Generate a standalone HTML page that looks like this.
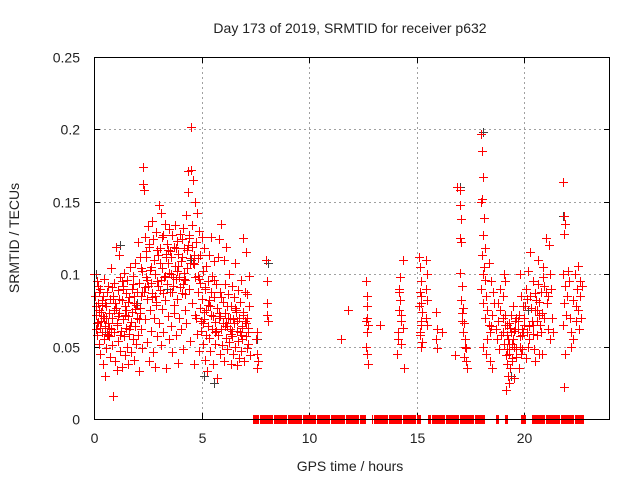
<!DOCTYPE html>
<html><head><meta charset="utf-8"><style>
body{margin:0;background:#fff}
svg text{font-family:"Liberation Sans",sans-serif;fill:#222}
</style></head><body>
<svg id="chart" width="640" height="480" xmlns="http://www.w3.org/2000/svg">
<rect width="640" height="480" fill="#fff"/>
<g id="grid"></g>
<g id="ticks"></g>
<g id="gray"></g>
<g id="red"></g>
<rect x="94.5" y="57.5" width="515" height="362" fill="none" stroke="#000" stroke-width="1"/>
<text x="350" y="33" font-size="14" text-anchor="middle">Day 173 of 2019, SRMTID for receiver p632</text>
<text transform="translate(19,238) rotate(-90)" font-size="14" text-anchor="middle">SRMTID / TECUs</text>
<text x="350" y="471" font-size="14" text-anchor="middle">GPS time / hours</text>
</svg>
<script>
const xTicks=[0,5,10,15,20];
const yTicks=[0,0.05,0.1,0.15,0.2,0.25];
const yTickLabels=["0","0.05","0.1","0.15","0.2","0.25"];
const redT=[
0.02,0.05,0.08,0.1,0.12,0.15,0.18,0.2,0.22,0.25,
0.28,0.3,0.33,0.35,0.38,0.4,0.43,0.45,0.48,0.5,
0.53,0.55,0.58,0.6,0.63,0.65,0.68,0.7,0.73,0.75,
0.78,0.8,0.83,0.85,0.88,0.9,0.93,0.95,0.98,1.0,
1.03,1.05,1.08,1.1,1.13,1.15,1.18,1.2,1.23,1.25,
1.28,1.3,1.33,1.35,1.38,1.4,1.43,1.45,1.48,1.5,
1.53,1.55,1.58,1.6,1.63,1.65,1.68,1.7,1.73,1.75,
1.78,1.8,1.83,1.85,1.88,1.9,1.93,1.95,1.98,2.0,
2.03,2.05,2.08,2.1,2.13,2.15,2.18,2.2,2.23,2.25,
2.28,2.3,2.33,2.35,2.38,2.4,2.43,2.45,2.48,2.5,
2.53,2.55,2.58,2.6,2.63,2.65,2.68,2.7,2.73,2.75,
2.78,2.8,2.83,2.85,2.88,2.9,2.93,2.95,2.98,3.0,
3.03,3.05,3.08,3.1,3.13,3.15,3.18,3.2,3.23,3.25,
3.28,3.3,3.33,3.35,3.38,3.4,3.43,3.45,3.48,3.5,
3.53,3.55,3.58,3.6,3.63,3.65,3.68,3.7,3.73,3.75,
3.78,3.8,3.83,3.85,3.88,3.9,3.93,3.95,3.98,4.0,
4.03,4.05,4.08,4.1,4.13,4.15,4.18,4.2,4.23,4.25,
4.28,4.3,4.33,4.35,4.38,4.4,4.43,4.45,4.48,4.5,
4.53,4.55,4.58,4.6,4.63,4.65,4.68,4.7,4.73,4.75,
4.78,4.8,4.83,4.85,4.88,4.9,4.93,4.95,4.98,5.0,
5.03,5.05,5.08,5.1,5.13,5.15,5.18,5.2,5.23,5.25,
5.28,5.3,5.33,5.35,5.38,5.4,5.43,5.45,5.48,5.5,
5.53,5.55,5.58,5.6,5.63,5.65,5.68,5.7,5.73,5.75,
5.78,5.8,5.83,5.85,5.88,5.9,5.93,5.95,5.98,6.0,
6.03,6.05,6.08,6.1,6.13,6.15,6.18,6.2,6.23,6.25,
6.28,6.3,6.33,6.35,6.38,6.4,6.43,6.45,6.48,6.5,
6.53,6.55,6.58,6.6,6.63,6.65,6.68,6.7,6.73,6.75,
6.78,6.8,6.83,6.85,6.88,6.9,6.93,6.95,6.98,7.0,
7.03,7.05,7.08,7.1,7.13,7.15,7.18,7.2,7.23,7.25,
0.12,0.37,0.62,0.87,1.12,1.37,1.62,1.87,2.12,2.37,
2.62,2.87,3.12,3.37,3.62,3.87,4.12,4.37,4.62,4.87,
5.12,5.37,5.62,5.87,6.12,6.37,6.62,6.87,7.12,0.22,
0.47,0.72,0.97,1.22,1.47,1.72,1.97,2.22,2.47,2.72,
2.97,3.22,3.47,3.72,3.97,4.22,4.47,4.72,4.97,5.22,
0.07,0.17,0.27,0.42,0.57,0.67,0.82,0.92,1.07,1.17,
1.32,1.42,1.57,1.67,1.82,1.92,2.07,2.17,2.32,2.42,
2.57,2.67,2.82,2.92,3.07,3.17,3.32,3.42,3.57,3.67,
3.82,3.92,4.07,4.17,4.32,4.42,4.57,4.67,4.82,4.92,
5.07,5.17,5.32,5.42,5.57,5.67,5.82,5.92,6.07,6.17,
6.32,6.42,6.57,6.67,6.82,6.92,7.07,7.17,0.32,0.52,
7.55,7.6,7.6,7.65,7.6,8.0,8.05,8.05,8.1,8.05,
11.5,11.8,12.65,12.7,12.7,12.75,12.7,12.65,12.7,12.75,
12.7,13.3,12.65,
14.1,14.15,14.2,14.2,14.25,14.3,14.3,14.35,14.4,14.2,
14.15,14.3,14.25,14.35,15.1,15.15,15.2,15.15,15.2,15.25,
15.2,15.15,15.25,15.2,15.1,15.2,15.45,15.5,15.45,15.5,
15.45,15.5,15.9,15.95,15.9,15.95,16.2,16.8,15.2,15.15,
16.9,17.0,17.0,17.05,17.0,17.05,17.0,17.1,17.05,17.15,
17.1,17.2,17.15,17.25,17.3,17.2,17.3,17.35,17.1,17.25,
18.0,18.05,18.1,18.05,18.0,18.15,18.1,18.2,18.05,18.15,
18.1,18.2,18.0,18.25,18.1,18.3,18.2,18.35,18.4,18.3,
18.1,18.25,18.4,18.5,18.45,18.55,18.6,18.5,18.35,18.45,
18.7,18.75,18.8,18.85,18.9,18.95,19.0,19.05,19.1,19.15,
19.2,19.25,19.3,19.35,19.4,19.45,19.5,19.55,19.6,19.65,
19.7,19.75,19.8,19.85,19.9,19.95,20.0,19.2,19.3,19.4,
18.8,18.9,19.0,19.1,19.2,19.3,19.5,19.6,19.8,19.9,
19.25,19.35,19.45,19.55,19.65,19.75,19.85,19.95,19.15,19.05,
19.02,19.12,19.22,19.32,19.42,19.52,19.62,19.72,19.82,19.92,
20.02,20.12,20.22,20.32,20.42,20.52,20.62,20.72,20.82,20.92,
20.05,20.1,20.15,20.2,20.25,20.3,20.35,20.4,20.45,20.5,
20.55,20.6,20.65,20.7,20.75,20.8,20.85,20.9,20.95,21.0,
21.05,21.1,21.15,21.2,21.25,21.3,20.5,20.7,20.9,21.1,
20.2,20.4,20.6,20.8,21.0,21.2,20.3,20.1,20.65,21.35,
21.8,21.85,21.9,21.85,21.8,21.9,21.85,21.8,21.9,21.85,
22.0,22.1,22.15,22.2,22.3,22.35,22.4,22.45,22.5,22.55,
22.6,22.65,22.7,22.3,22.4,22.5,22.2,22.6,21.95,22.05];
const redV=[
.100,.085,.062,.072,.058,.095,.080,.067,.052,.075,
.045,.090,.068,.060,.082,.038,.071,.055,.097,.064,
.030,.078,.049,.088,.066,.092,.057,.073,.043,.083,
.062,.104,.051,.070,.016,.085,.060,.094,.040,.077,
.119,.065,.034,.089,.054,.073,.113,.047,.098,.061,
.082,.036,.069,.092,.057,.101,.044,.078,.063,.087,
.050,.096,.071,.038,.084,.059,.105,.067,.046,.090,
.074,.055,.099,.041,.080,.064,.108,.052,.088,.070,
.122,.058,.094,.033,.077,.112,.062,.085,.049,.102,
.174,.162,.158,.126,.069,.098,.116,.053,.083,.133,
.092,.040,.119,.075,.105,.061,.137,.087,.046,.124,
.070,.110,.100,.036,.129,.081,.095,.057,.113,.148,
.066,.118,.089,.142,.051,.104,.076,.127,.060,.098,
.135,.082,.112,.035,.093,.121,.071,.108,.055,.131,
.088,.116,.064,.100,.127,.046,.092,.119,.073,.106,
.134,.058,.097,.123,.083,.039,.114,.070,.128,.091,
.062,.109,.124,.087,.132,.048,.101,.118,.075,.096,
.141,.066,.117,.171,.157,.090,.125,.054,.108,.172,
.202,.134,.080,.165,.113,.038,.098,.150,.070,.122,
.142,.059,.088,.111,.047,.130,.077,.094,.061,.126,
.083,.102,.052,.069,.118,.041,.090,.075,.106,.033,
.064,.095,.056,.113,.078,.047,.088,.126,.062,.099,
.071,.038,.084,.109,.052,.067,.093,.028,.077,.112,
.058,.124,.070,.045,.088,.062,.135,.051,.081,.066,
.110,.040,.073,.093,.056,.119,.064,.048,.086,.070,
.053,.100,.062,.038,.078,.092,.057,.069,.045,.084,
.066,.108,.050,.074,.037,.061,.089,.054,.070,.042,
.081,.060,.047,.096,.064,.055,.125,.072,.040,.088,
.068,.057,.115,.049,.086,.063,.052,.078,.099,.044,
.066,.079,.059,.083,.071,.090,.062,.085,.073,.091,
.103,.079,.096,.114,.088,.102,.093,.120,.108,.097,
.074,.082,.060,.071,.066,.059,.075,.063,.070,.088,
.070,.063,.080,.058,.075,.067,.079,.088,.096,.084,
.092,.087,.101,.079,.098,.086,.111,.072,.068,.058,
.078,.092,.063,.085,.070,.058,.091,.075,.066,.083,
.095,.072,.081,.064,.093,.076,.069,.104,.088,.112,
.121,.094,.085,.117,.108,.126,.099,.117,.112,.098,
.118,.106,.112,.097,.104,.127,.119,.107,.099,.113,
.066,.091,.079,.072,.096,.061,.073,.084,.064,.078,
.070,.061,.077,.068,.058,.074,.066,.060,.074,.080,
.055,.045,.035,.040,.060,.110,.095,.080,.068,.072,
.055,.075,.095,.085,.070,.065,.060,.050,.045,.038,
.078,.065,.068,
.045,.060,.075,.090,.082,.068,.052,.110,.035,.088,
.055,.072,.098,.063,.112,.105,.095,.088,.080,.074,
.068,.060,.053,.050,.078,.085,.110,.100,.090,.082,
.070,.065,.074,.062,.055,.049,.060,.044,.065,.058,
.160,.158,.148,.138,.125,.122,.101,.092,.082,.077,
.068,.066,.060,.055,.049,.043,.040,.035,.073,.050,
.197,.185,.167,.152,.150,.139,.127,.118,.113,.105,
.100,.096,.090,.085,.080,.075,.070,.065,.060,.055,
.050,.045,.040,.035,.095,.088,.080,.072,.108,.064,
.062,.055,.068,.048,.075,.058,.070,.052,.065,.044,
.038,.030,.025,.035,.060,.042,.055,.028,.068,.048,
.062,.072,.050,.085,.058,.078,.065,.065,.045,.072,
.080,.090,.085,.095,.058,.052,.078,.062,.100,.048,
.055,.063,.040,.050,.070,.035,.045,.060,.020,.100,
.060,.072,.048,.066,.052,.061,.043,.068,.057,.062,
.070,.083,.064,.077,.059,.087,.068,.081,.073,.092,
.078,.090,.060,.102,.055,.085,.068,.095,.048,.075,
.082,.058,.110,.072,.065,.088,.045,.098,.070,.125,
.080,.062,.120,.055,.090,.070,.040,.045,.105,.085,
.050,.065,.075,.060,.088,.100,.115,.042,.093,.060,
.164,.140,.135,.128,.100,.092,.080,.065,.045,.022,
.085,.095,.070,.060,.082,.100,.068,.090,.075,.062,
.085,.070,.092,.055,.078,.106,.050,.095,.072,.102];
const grayT=[0.1,0.5,1.2,2.0,3.4,4.5,5.1,5.6,7.6,8.1,12.7,17.0,18.1,19.4,20.2,21.8,22.6];
const grayV=[.100,.060,.120,.080,.090,.110,.030,.025,.055,.108,.070,.160,.198,.030,.075,.140,.085];
const zeroT=[
7.4,7.45,7.5,7.55,7.6,7.65,7.7,7.75,7.8,7.85,7.9,7.95,8.0,8.05,8.1,8.15,8.2,8.25,8.3,8.35,
8.4,8.45,8.5,8.55,8.6,8.65,8.7,8.75,8.8,8.85,8.9,8.95,9.0,9.05,9.1,9.15,9.2,9.25,9.3,9.35,
9.4,9.45,9.5,9.55,9.6,9.65,9.7,9.75,9.8,9.85,9.9,9.95,10.0,10.05,10.1,10.15,10.2,10.25,10.3,10.35,
10.4,10.45,10.5,10.55,10.6,10.65,10.7,10.75,10.8,10.85,10.9,10.95,11.0,11.05,11.1,11.15,11.2,11.25,11.3,11.35,
11.4,11.45,11.5,11.55,11.6,11.65,11.7,11.75,11.8,11.85,11.9,11.95,12.0,12.05,12.1,12.15,12.2,12.25,12.3,12.35,
12.4,12.45,12.5,12.55,12.6,
12.95,13.0,13.05,13.1,13.15,13.2,13.25,13.3,13.35,13.4,13.45,13.5,13.55,13.6,13.65,13.7,13.75,13.8,13.85,13.9,
13.95,14.0,14.05,14.1,14.15,14.2,14.25,14.3,14.35,14.4,14.45,14.5,14.55,14.6,14.65,14.7,14.75,14.8,14.85,14.9,
14.95,15.0,15.05,15.1,15.15,
15.55,15.6,15.65,15.7,15.75,15.8,15.85,15.9,15.95,16.0,16.05,16.1,16.15,16.2,16.25,16.3,16.35,16.4,16.45,16.5,
16.55,16.6,16.65,16.7,16.75,16.8,16.85,16.9,16.95,17.0,17.05,17.1,17.15,17.2,17.25,17.3,17.35,17.4,17.45,17.5,
17.55,17.6,17.65,17.7,17.75,17.8,17.85,17.9,17.95,18.0,18.05,18.1,18.15,
18.7,18.75,18.8,19.1,19.15,19.2,19.85,19.9,19.95,20.0,20.05,
20.35,20.4,20.45,20.5,20.55,20.6,20.65,20.7,20.75,20.8,20.85,20.9,20.95,21.0,21.05,21.1,21.15,21.2,21.25,21.3,
21.35,21.4,21.45,21.5,21.55,21.6,21.65,21.7,21.75,21.8,21.85,21.9,21.95,22.0,22.05,22.1,22.15,22.2,22.25,22.3,
22.35,22.4,22.45,22.5,22.55,22.6,22.65,22.7,22.75];
const X0=94,X1=610,Y0=419,Y1=57,XMAX=24,YMAX=0.25;
function xs(t){return X0+(X1-X0)*t/XMAX;}
function ys(v){return Y0-(Y0-Y1)*v/YMAX;}
const NS="http://www.w3.org/2000/svg";
function mk(tag,attrs,parent){const e=document.createElementNS(NS,tag);for(const k in attrs)e.setAttribute(k,attrs[k]);parent.appendChild(e);return e;}
const grid=document.getElementById('grid'),ticks=document.getElementById('ticks');
xTicks.forEach(t=>{
  const x=Math.round(xs(t))+0.5;
  if(t>0){const g=mk('line',{x1:x,x2:x,y1:Y1,y2:Y0,stroke:'#a0a0a0','stroke-dasharray':'2,3'},grid);
  
  }
  mk('line',{x1:x,x2:x,y1:Y0,y2:Y0-6,stroke:'#000'},ticks);
  mk('line',{x1:x,x2:x,y1:Y1,y2:Y1+6,stroke:'#000'},ticks);
  const tx=mk('text',{x:x,y:443,'font-size':14,'text-anchor':'middle'},ticks);
  tx.textContent=String(t);
  
  
});
yTicks.forEach((v,i)=>{
  const y=Math.round(ys(v))+0.5;
  if(v>0&&v<YMAX){const g=mk('line',{x1:X0,x2:X1,y1:y,y2:y,stroke:'#a0a0a0','stroke-dasharray':'2,3'},grid);
  
  }
  mk('line',{x1:X0,x2:X0+6,y1:y,y2:y,stroke:'#000'},ticks);
  mk('line',{x1:X1,x2:X1-6,y1:y,y2:y,stroke:'#000'},ticks);
  const tx=mk('text',{x:80,y:y+5,'font-size':14,'text-anchor':'end'},ticks);
  tx.textContent=yTickLabels[i];
  
  
});
function plus(parent,t,v,color){
  const x=Math.round(xs(t))+0.5,y=Math.round(ys(v))+0.5;
  const p=mk('path',{d:`M${x-4.5},${y}h9M${x},${y-4.5}v9`,stroke:color,'stroke-width':1,fill:'none'},parent);
  
  
}
const gG=document.getElementById('gray'),gR=document.getElementById('red');
grayT.forEach((t,i)=>plus(gG,t,grayV[i],'#404040'));
redT.forEach((t,i)=>plus(gR,t,redV[i],'#ff0000'));
zeroT.forEach(t=>plus(gR,t,0,'#ff0000'));
</script>
</body></html>
